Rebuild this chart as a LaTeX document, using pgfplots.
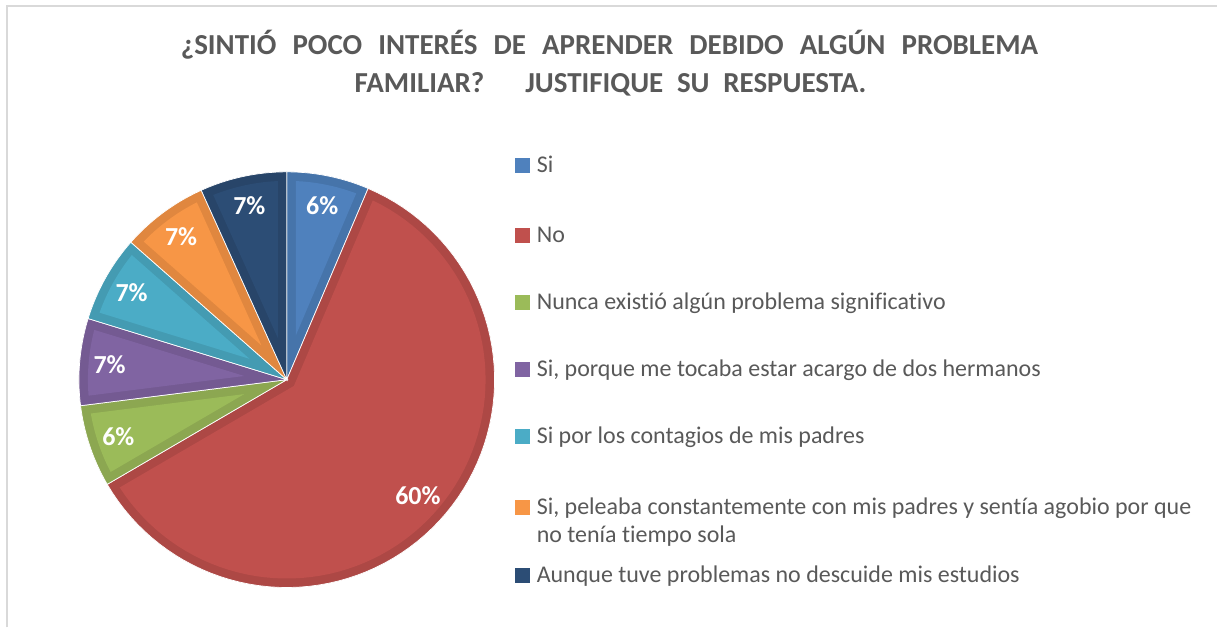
\documentclass[border=0pt]{standalone}
\usepackage{fontspec}
\setmainfont{Carlito}[Ligatures=NoCommon]
\usepackage{pgfplots}
\pgfplotsset{compat=1.18}
\definecolor{txt}{HTML}{595959}
\definecolor{frame}{HTML}{D9D9D9}
\definecolor{mA}{HTML}{4F81BD}\definecolor{dA}{HTML}{4674AA}
\definecolor{mB}{HTML}{C0504D}\definecolor{dB}{HTML}{AD4845}
\definecolor{mC}{HTML}{9BBB59}\definecolor{dC}{HTML}{8CA751}
\definecolor{mD}{HTML}{8064A2}\definecolor{dD}{HTML}{745A92}
\definecolor{mE}{HTML}{4BACC6}\definecolor{dE}{HTML}{449BB2}
\definecolor{mF}{HTML}{F79646}\definecolor{dF}{HTML}{E0873F}
\definecolor{mG}{HTML}{2C4D75}\definecolor{dG}{HTML}{284569}
% percentages
\def\vA{6.4}\def\vB{60.2}\def\vC{6.4}\def\vD{6.75}\def\vE{6.75}\def\vF{6.75}\def\vG{6.75}
\def\cx{287}\def\cy{248}\def\R{208}\def\d{9}
\newcommand\defslice[4]{% #1 letter, #2 hi angle, #3 lo angle, #4 label radius
  \pgfmathsetmacro\tmphi{#2}\pgfmathsetmacro\tmplo{#3}%
  \expandafter\let\csname hi#1\endcsname\tmphi
  \expandafter\let\csname lo#1\endcsname\tmplo
  \pgfmathsetmacro\tmpmid{(\tmphi+\tmplo)/2}%
  \pgfmathsetmacro\tmps{\d/sin((\tmphi-\tmplo)/2)}%
  \pgfmathsetmacro\tmppx{\cx+\tmps*cos(\tmpmid)}\expandafter\let\csname px#1\endcsname\tmppx
  \pgfmathsetmacro\tmppy{\cy+\tmps*sin(\tmpmid)}\expandafter\let\csname py#1\endcsname\tmppy
  \pgfmathsetmacro\tmpdel{asin(\d/(\R-\d))}%
  \pgfmathsetmacro\tmpih{\tmphi-\tmpdel}\expandafter\let\csname ih#1\endcsname\tmpih
  \pgfmathsetmacro\tmpil{\tmplo+\tmpdel}\expandafter\let\csname il#1\endcsname\tmpil
  \pgfmathsetmacro\tmplx{\cx+#4*cos(\tmpmid)}\expandafter\let\csname lx#1\endcsname\tmplx
  \pgfmathsetmacro\tmply{\cy+#4*sin(\tmpmid)}\expandafter\let\csname ly#1\endcsname\tmply
}
\pgfmathsetmacro\aA{90}
\pgfmathsetmacro\aB{\aA-3.6*\vA}
\pgfmathsetmacro\aC{\aB-3.6*\vB}
\pgfmathsetmacro\aD{\aC-3.6*\vC}
\pgfmathsetmacro\aE{\aD-3.6*\vD}
\pgfmathsetmacro\aF{\aE-3.6*\vE}
\pgfmathsetmacro\aG{\aF-3.6*\vF}
\pgfmathsetmacro\aH{\aG-3.6*\vG}
\defslice{A}{\aA}{\aB}{178}
\defslice{B}{\aB}{\aC}{175}
\defslice{C}{\aC}{\aD}{178}
\defslice{D}{\aD}{\aE}{178}
\defslice{E}{\aE}{\aF}{178}
\defslice{F}{\aF}{\aG}{178}
\defslice{G}{\aG}{\aH}{178}
\def\pctA{6\%}\def\pctB{60\%}\def\pctC{6\%}\def\pctD{7\%}\def\pctE{7\%}\def\pctF{7\%}\def\pctG{7\%}
\newcommand\pieslice[1]{%
  \edef\tmpcmd{%
  \noexpand\addplot[draw=white, line width=0.7pt, fill=d#1, domain=\csname lo#1\endcsname:\csname hi#1\endcsname, samples=80]
   ({\cx+\R*cos(x)},{\cy+\R*sin(x)}) -- (axis cs:\cx,\cy) -- cycle;
  \noexpand\addplot[draw=none, fill=m#1, domain=\csname il#1\endcsname:\csname ih#1\endcsname, samples=80]
   ({\cx+(\R-\d)*cos(x)},{\cy+(\R-\d)*sin(x)}) -- (axis cs:\csname px#1\endcsname,\csname py#1\endcsname) -- cycle;
  \noexpand\node[text=white, font=\noexpand\fontsize{26}{30}\noexpand\selectfont\noexpand\bfseries] at (axis cs:\csname lx#1\endcsname,\csname ly#1\endcsname) {\noexpand\csname pct#1\noexpand\endcsname};
  }\tmpcmd
}
\newcommand\legentry[4]{%
  \fill[#3] (axis cs:515,#1-7.5) rectangle (axis cs:530,#1+7.5);
  \node[anchor=base west, inner sep=0pt, text=txt, font=\fontsize{24}{29}\selectfont] at (axis cs:537,#2) {#4};
}
\begin{document}
\begin{tikzpicture}
\begin{axis}[
  scale only axis, width=1218pt, height=628pt,
  xmin=0, xmax=1218, ymin=0, ymax=628,
  hide axis, clip=false,
]
\addplot[draw=none, fill=white] coordinates {(0,0) (1218,0) (1218,628) (0,628)} -- cycle;
\addplot[draw=frame, line width=2pt] coordinates {(7,0) (7,622) (1218,622)};
\pieslice{A}
\pieslice{B}
\pieslice{C}
\pieslice{D}
\pieslice{E}
\pieslice{F}
\pieslice{G}
% title
\node[anchor=base, text=txt, font=\fontsize{29}{34}\selectfont\bfseries] at (axis cs:610,573)
  {\makebox[858pt][s]{¿SINTIÓ POCO INTERÉS DE APRENDER DEBIDO ALGÚN PROBLEMA}};
\node[anchor=base, text=txt, font=\fontsize{29}{34}\selectfont\bfseries] at (axis cs:611,535)
  {\makebox[512pt][s]{FAMILIAR?\ \ \ JUSTIFIQUE SU RESPUESTA.}};
% legend
\legentry{462}{455}{mA}{Si}
\legentry{392}{385}{mB}{No}
\legentry{325}{318}{mC}{Nunca existió algún problema significativo}
\legentry{258}{251}{mD}{Si, porque me tocaba estar acargo de dos hermanos}
\legentry{191}{184}{mE}{Si por los contagios de mis padres}
\legentry{120}{113}{mF}{Si, peleaba constantemente con mis padres y sentía agobio por que}
\legentry{52}{45}{mG}{Aunque tuve problemas no descuide mis estudios}
\node[anchor=base west, inner sep=0pt, text=txt, font=\fontsize{24}{29}\selectfont] at (axis cs:537,85) {no tenía tiempo sola};
\end{axis}
\end{tikzpicture}
\end{document}
